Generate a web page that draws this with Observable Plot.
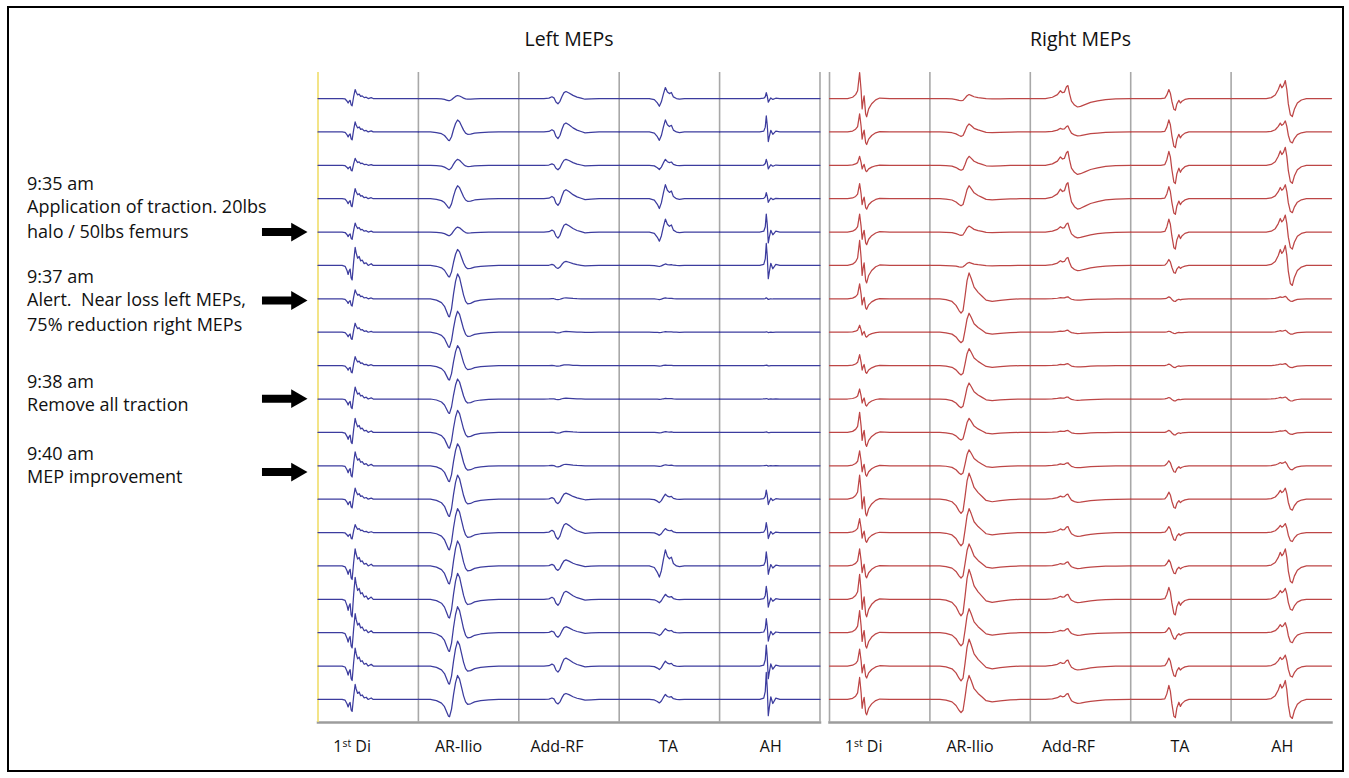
<!DOCTYPE html>
<html><head><meta charset="utf-8">
<script src="https://cdn.jsdelivr.net/npm/d3@7"></script>
<script src="https://cdn.jsdelivr.net/npm/@observablehq/plot@0.6"></script>
<style>
body{margin:0;background:#fff;}
#wrap{position:relative;width:1349px;height:778px;overflow:hidden;}
#border{position:absolute;left:7px;top:6px;width:1333px;height:762px;border:2px solid #000;pointer-events:none;}
</style></head>
<body><div id="wrap"><div id="chart"></div><div id="border"></div></div>
<script>
// ---------- categories ----------
const sides = ["Left MEPs", "Right MEPs"];
const muscles = ["1st Di", "AR-Ilio", "Add-RF", "TA", "AH"];
const tickPos = [0.34, 1.4, 2.38, 3.49, 4.51];   // label positions (column units)
const rowCount = 19;                              // consecutive MEP trials, top to bottom

// ---------- waveform templates: [time within column 0-100, relative deflection (+ = up)] ----------
const tplL_Di   = [[0,0],[24,0],[27,-0.05],[29,-0.3],[30,-0.5],[31,-0.3],[32,-0.2],[33,-0.7],[34,-0.8],[35.5,0.2],[37,1],[38,0.7],[39.5,0.4],[41,0.5],[42.5,0.25],[44,0.3],[46,0.1],[48,0.15],[50,0],[53,0.1],[55,0],[100,0]];
const tplL_Ilio = [[0,0],[12,0],[18,-0.05],[23,-0.15],[26,-0.3],[28,-0.5],[30,-0.7],[31,-0.72],[33,-0.4],[35,0.2],[37,0.7],[39,1],[41,0.85],[43,0.5],[45,0.15],[47,-0.1],[49,-0.2],[52,-0.18],[56,-0.1],[62,-0.05],[70,-0.02],[80,0],[100,0]];
const tplL_Add  = [[0,0],[25,0],[30,0.05],[33,0.25],[35,0.1],[37,-0.5],[39,-0.75],[41,-0.4],[43,0.3],[45,0.85],[47,1],[50,0.8],[54,0.45],[58,0.2],[62,0.05],[66,-0.1],[72,-0.05],[80,0],[100,0]];
const tplL_TA   = [[0,0],[30,0],[35,-0.1],[38,-0.4],[40,-0.7],[42,-0.3],[44,0.4],[46,1],[48,0.6],[50,0.45],[52,0.55],[54,0.15],[57,0],[60,-0.05],[65,0],[100,0]];
const tplL_AH   = [[0,0],[40,0],[44,0.05],[45.5,0.3],[46.5,1],[47.5,0.4],[48.5,-0.6],[49.5,-0.3],[51,0.1],[53,-0.15],[56,0.05],[60,0],[100,0]];
const tplR_Di   = [[0,0],[18,0],[23,0.05],[26,0.15],[28,0.3],[30,1],[31.5,0.3],[32.5,-0.4],[33.5,-0.1],[34.5,0.1],[36,-0.6],[37,-0.7],[39,-0.4],[42,-0.2],[46,-0.05],[50,0.02],[60,0],[100,0]];
const tplR_Ilio = [[0,0],[10,0],[16,-0.03],[22,-0.1],[26,-0.25],[29,-0.45],[31,-0.55],[33,-0.45],[35,0.1],[37,0.7],[39,1],[41,0.8],[44,0.45],[48,0.25],[52,0.1],[56,-0.05],[62,-0.1],[70,-0.06],[80,-0.02],[90,0],[100,0]];
const tplR_Add  = [[0,0],[15,0],[22,0.1],[27,0.3],[30,0.6],[32,0.45],[34,0.5],[36,0.9],[37.5,1],[39,0.4],[41,-0.2],[44,-0.5],[47,-0.65],[50,-0.6],[55,-0.45],[60,-0.3],[67,-0.18],[75,-0.08],[85,-0.02],[100,0]];
const tplR_TA   = [[0,0],[30,0],[34,0.05],[36,0.4],[38,1],[39.5,0.6],[41,-0.3],[43,-1.2],[44.5,-1.3],[46,-0.6],[48,-0.2],[49.5,-0.5],[51,-0.3],[54,-0.1],[58,0],[100,0]];
const tplR_AH   = [[0,0],[35,0],[40,0.05],[44,0.2],[47,0.5],[49,0.8],[50.5,0.6],[52,0.7],[54,1],[55.5,0.5],[57,-0.3],[59,-0.9],[61,-1],[63,-0.6],[66,-0.25],[70,-0.08],[75,0],[100,0]];

// ---------- amplitudes per trial (rows 1..19) ----------
const ampL_Di   = [9,10,7,10,9,18,9,9,9,12,14,14,11,8,17,22,19,18,15];
const ampL_Ilio = [3,12,6,13,5,16,25,21,20,20,22,22,24,24,25,26,26,25,24];
const ampL_Add  = [7,9,6,9,8,4,1,0.8,0.8,0.8,1,1.5,6,9,6,8,6,8,6];
const ampL_TA   = [11,12,6,14,13,1.5,1,0.6,0.6,0.6,0.8,1,5,4,16,5,4,5,5];
const ampL_AH   = [6,16,6,6,18,22,1,0.5,0.5,0.5,0.5,0.5,9,10,14,13,14,21,27];
const ampR_Di   = [26,18,9,15,18,25,15,7,11,10,20,15,24,14,17,25,22,17,22];
const ampR_Ilio = [4,8,9,13,6,3,26,19,17,16,14,16,26,24,22,30,24,27,24];
const ampR_Add  = [13,6,14,16,9,8,2,2,2,2,2,3,5,6,4,5,4,6,6];
const ampR_TA   = [9,12,14,12,13,6,2,1,1.5,1.5,2,5,7,6,6,12,5,8,14];
const ampR_AH   = [18,11,18,14,17,20,2.5,2,2,2,2,4,11,9,17,11,10,11,19];

// ---------- annotations ----------
const noteLines = ["9:35 am","Application of traction. 20lbs","halo / 50lbs femurs",
                   "9:37 am","Alert.\u00a0 Near loss left MEPs,","75% reduction right MEPs",
                   "9:38 am","Remove all traction",
                   "9:40 am","MEP improvement"];
const noteRows  = [2.555,3.255,4.0,5.35,6.05,6.8,8.5,9.19,10.64,11.34];
const arrowRows = [4.0,6.05,8.99,11.19];

// ---------- build tables ----------
const ampScale = 33.4; // amplitude units per trace spacing
const tpl = [[tplL_Di,tplL_Ilio,tplL_Add,tplL_TA,tplL_AH],[tplR_Di,tplR_Ilio,tplR_Add,tplR_TA,tplR_AH]];
const amp = [[ampL_Di,ampL_Ilio,ampL_Add,ampL_TA,ampL_AH],[ampR_Di,ampR_Ilio,ampR_Add,ampR_TA,ampR_AH]];
const traces = [];
sides.forEach((side, s) => {
  muscles.forEach((m, c) => {
    for (let r = 0; r < rowCount; r++) {
      const a = amp[s][c][r];
      tpl[s][c].forEach(([t, v]) => {
        traces.push({side, id: `${s}-${c}-${r}`, x: c + t / 100, y: r - a * v / ampScale});
      });
    }
  });
});
const grid = [];
[0,1,2,3,4,5].forEach(x => grid.push({side: sides[0], x, color: x === 0 ? "#f0de6a" : "#a8a8a8"}));
[0,1,2,3,4].forEach(x => grid.push({side: sides[1], x, color: "#a8a8a8"}));
const notes = noteLines.map((line, i) => ({line, row: noteRows[i]}));
const arrows = arrowRows.map(row => ({row}));
const leftSide = () => sides[0];

const chart = Plot.plot({
  width: 1349, height: 778,
  marginLeft: 317.5, marginRight: 18, marginTop: 72, marginBottom: 56,
  style: {fontFamily: "'Open Sans', sans-serif", background: "transparent", color: "#111"},
  fx: {domain: sides, paddingInner: 0.0186, paddingOuter: 0, round: false, label: null},
  x: {domain: [0, 5], axis: null},
  y: {domain: [-0.78, 18.69], reverse: true, axis: null},
  marks: [
    Plot.frame({anchor: "bottom", stroke: "#9c9c9c", strokeWidth: 2.5}),
    Plot.ruleX(grid, {x: "x", fx: "side", stroke: "color", strokeWidth: 1.6}),
    Plot.line(traces.filter(d => d.side === sides[0]), {x: "x", y: "y", z: "id", fx: "side", stroke: "#3c3c9e", strokeWidth: 1.25, strokeLinejoin: "round"}),
    Plot.line(traces.filter(d => d.side === sides[1]), {x: "x", y: "y", z: "id", fx: "side", stroke: "#bd4646", strokeWidth: 1.25, strokeLinejoin: "round"}),
    Plot.axisX(tickPos, {anchor: "bottom", tickSize: 0, tickPadding: 18, fontSize: 16, label: null,
      tickFormat: d => muscles[tickPos.indexOf(d)]}),
    Plot.axisFx({anchor: "top", tickSize: 0, tickPadding: 27, fontSize: 19.5, label: null}),
    Plot.text(notes, {x: -2.898, y: "row", text: "line", fx: leftSide, textAnchor: "start", fontSize: 18, fill: "#111"}),
    Plot.ruleY(arrows, {y: "row", x1: -0.553, x2: -0.2, fx: leftSide, stroke: "#000", strokeWidth: 8}),
    Plot.dot(arrows, {x: -0.213, y: "row", fx: leftSide, symbol: "triangle", r: 7, fill: "#000", stroke: "none", rotate: 90})
  ]
});
document.getElementById("chart").appendChild(chart);

// superscript for "1st Di"
chart.querySelectorAll("text").forEach(t => {
  if (t.textContent === "1st Di") {
    const ns = "http://www.w3.org/2000/svg";
    t.textContent = "";
    const a = document.createElementNS(ns, "tspan"); a.textContent = "1";
    const b = document.createElementNS(ns, "tspan"); b.textContent = "st"; b.setAttribute("dy", "-0.45em"); b.setAttribute("font-size", "0.65em");
    const c = document.createElementNS(ns, "tspan"); c.textContent = "\u00a0Di"; c.setAttribute("dy", "0.3em");
    t.append(a, b, c);
  }
});
</script>
</body></html>
